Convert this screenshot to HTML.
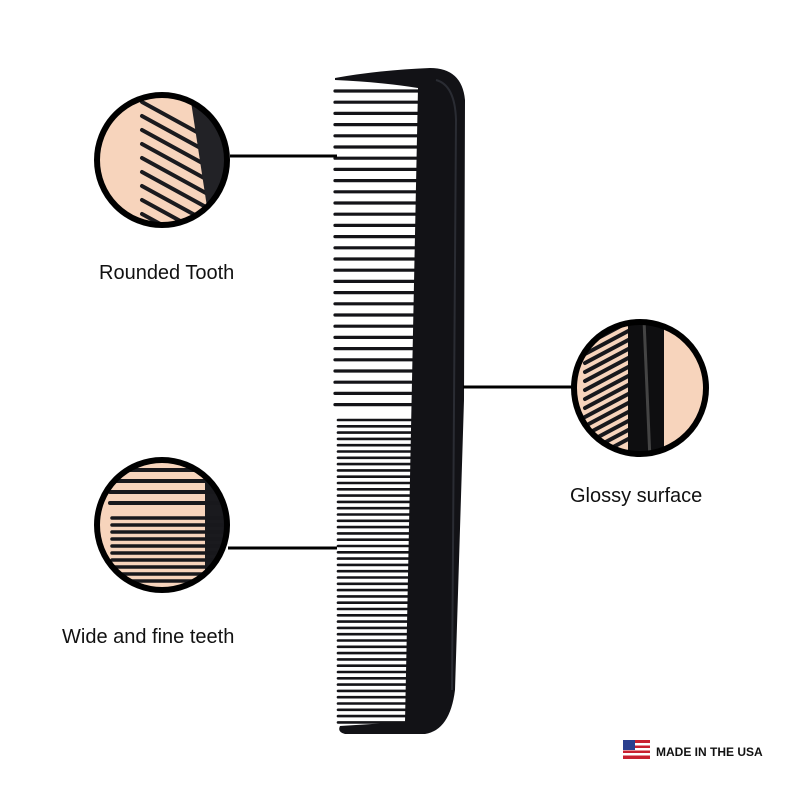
<!DOCTYPE html>
<html><head><meta charset="utf-8"><style>
html,body{margin:0;padding:0;background:#fff;}
svg{display:block}
text{font-family:"Liberation Sans",sans-serif;fill:#111}
</style></head><body>
<svg id="s" width="800" height="800" viewBox="0 0 800 800" xmlns="http://www.w3.org/2000/svg">
<defs>
<clipPath id="c1"><circle cx="162" cy="160" r="63"/></clipPath>
<clipPath id="c2"><circle cx="640" cy="388" r="64"/></clipPath>
<clipPath id="c3"><circle cx="162" cy="525" r="63"/></clipPath>
</defs>
<g id="teeth" stroke="#141418" stroke-linecap="round"></g>
<path d="M335,78 Q380,70 430,68 Q462,68 465,100 L464,400 L455,690 Q450,730 425,734 L345,734 Q337,732 340,726 L405,722 L418,88 Q380,82 335,80 Z" fill="#121216"/>
<path d="M436,80 Q455,85 456,120 L452,690" stroke="#2a2c33" stroke-width="2" fill="none"/>
<line x1="230" y1="156" x2="337" y2="156" stroke="#000" stroke-width="3"/>
<line x1="463" y1="387" x2="572" y2="387" stroke="#000" stroke-width="3"/>
<line x1="228" y1="548" x2="337" y2="548" stroke="#000" stroke-width="3"/>
<g clip-path="url(#c1)"><rect x="90" y="90" width="150" height="150" fill="#f7d4bc"/><g id="z1" stroke="#1a1a1e" stroke-width="4" stroke-linecap="round"></g><path d="M190,95 L240,125 L240,240 L212,240 Z" fill="#222226"/></g>
<circle cx="162" cy="160" r="65" fill="none" stroke="#000" stroke-width="6"/>
<g clip-path="url(#c2)"><rect x="570" y="320" width="140" height="140" fill="#f7d4bc"/><g id="z2" stroke="#18181c" stroke-width="4" stroke-linecap="round"></g><rect x="628" y="320" width="36" height="140" fill="#0e0e10"/><path d="M644,320 L650,460" stroke="#444" stroke-width="3"/></g>
<circle cx="640" cy="388" r="66" fill="none" stroke="#000" stroke-width="6"/>
<g clip-path="url(#c3)"><rect x="90" y="455" width="150" height="150" fill="#f7d4bc"/><rect x="205" y="455" width="35" height="150" fill="#1a1a1e"/><g id="z3" stroke="#18181c" stroke-linecap="round"></g></g>
<circle cx="162" cy="525" r="65" fill="none" stroke="#000" stroke-width="6"/>
<text x="99" y="279" font-size="20">Rounded Tooth</text>
<text x="570" y="502" font-size="20">Glossy surface</text>
<text x="62" y="643" font-size="20">Wide and fine teeth</text>
<g transform="translate(623,740)">
<rect x="0" y="0" width="27" height="19" fill="#c8202f"/>
<rect x="0" y="3" width="27" height="2.5" fill="#fff"/><rect x="0" y="8" width="27" height="2.5" fill="#fff"/><rect x="0" y="13" width="27" height="2.5" fill="#fff"/>
<rect x="0" y="0" width="12" height="10" fill="#2a3f8f"/>
</g>
<text x="656" y="756" font-size="12" font-weight="bold">MADE IN THE USA</text>
</svg>
<script>
var ns="http://www.w3.org/2000/svg";
function ln(g,x1,y1,x2,y2,w){var l=document.createElementNS(ns,"line");l.setAttribute("x1",x1);l.setAttribute("y1",y1);l.setAttribute("x2",x2);l.setAttribute("y2",y2);if(w)l.setAttribute("stroke-width",w);g.appendChild(l);}
var t=document.getElementById("teeth");
for(var y=91;y<415;y+=11.2){var ix=418-(y-80)*13/650;ln(t,335,y,ix+3,y,3.2);}
for(var y=420;y<723;y+=6.3){var ix=418-(y-80)*13/650;ln(t,338,y,ix+3,y,2.6);}
var z1=document.getElementById("z1");
for(var i=0;i<10;i++){var y=102+i*14;ln(z1,142,y,215,y+40);}
var z2=document.getElementById("z2");
for(var i=0;i<14;i++){var y=345+i*9;ln(z2,585,y,632,y-25);}
var z3=document.getElementById("z3");
for(var i=0;i<4;i++){var y=470+i*11;ln(z3,110,y,230,y,4);}
for(var i=0;i<10;i++){var y=518+i*7;ln(z3,112,y,228,y,3.5);}
</script>
</body></html>
